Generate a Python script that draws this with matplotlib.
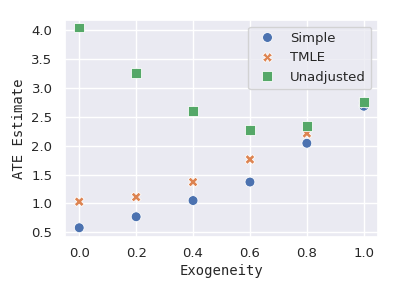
import matplotlib
matplotlib.use("Agg")
import matplotlib.pyplot as plt
import pandas as pd
import seaborn as sns

exogeneity = [0.0, 0.2, 0.4, 0.6, 0.8, 1.0]
simple = [0.58, 0.77, 1.05, 1.37, 2.04, 2.68]
tmle = [1.03, 1.11, 1.37, 1.76, 2.21, 2.73]
unadjusted = [4.04, 3.25, 2.60, 2.27, 2.34, 2.76]

rows = []
for name, vals in [("Simple", simple), ("TMLE", tmle), ("Unadjusted", unadjusted)]:
    for x, y in zip(exogeneity, vals):
        rows.append({"Exogeneity": x, "ATE Estimate": y, "Estimator": name})
df = pd.DataFrame(rows)

sns.set_theme(style="darkgrid")

fig = plt.figure(figsize=(3.99, 2.94), dpi=100)
ax = fig.add_axes([65 / 399, 1 - 237 / 294, 313 / 399, 217 / 294])
sns.scatterplot(data=df, x="Exogeneity", y="ATE Estimate", hue="Estimator",
                style="Estimator", markers=["o", "X", "s"], s=50, ax=ax)

ax.set_xticks(exogeneity)
ax.set_yticks([0.5, 1.0, 1.5, 2.0, 2.5, 3.0, 3.5, 4.0])
ax.set_xlim(-0.05, 1.05)
ax.set_ylim(0.42, 4.17)
ax.tick_params(axis="both", labelsize=9.5, length=0)
ax.tick_params(axis="x", pad=7)
ax.tick_params(axis="y", pad=9)
ax.set_xlabel("Exogeneity", family="DejaVu Sans Mono", fontsize=10, labelpad=3)
ax.set_ylabel("ATE Estimate", family="DejaVu Sans Mono", fontsize=10, labelpad=4)
ax.legend(loc="upper right", fontsize=9.5, title=None)

fig.savefig("out.png", dpi=100)
